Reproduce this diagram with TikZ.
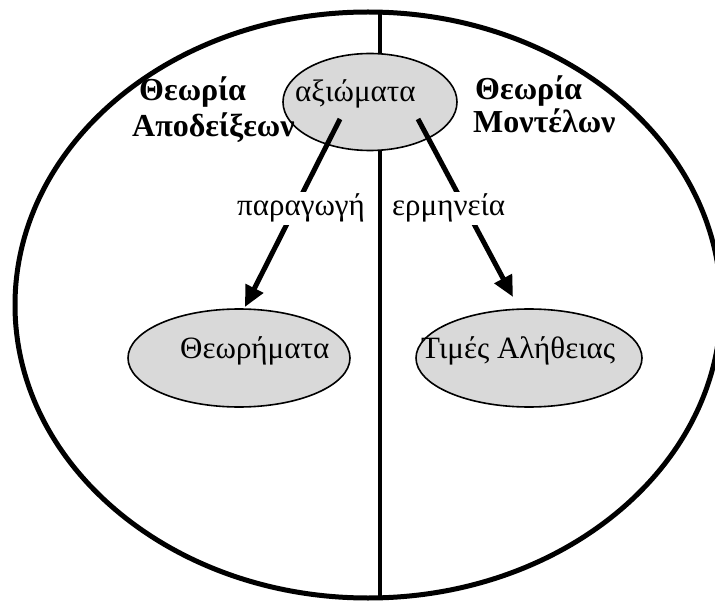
\documentclass[tikz,border=0pt]{standalone}
\usepackage{fontspec}
\setmainfont{Liberation Serif}
\usetikzlibrary{shapes.geometric,arrows.meta}
\definecolor{bubble}{RGB}{217,217,217}
\tikzset{
  bubblenode/.style={ellipse, draw=black, line width=1.6pt, fill=bubble,
    inner sep=0pt, minimum width=#1},
  word/.style={inner sep=0pt, anchor=base west, font=\fontsize{31}{36}\selectfont},
  heading/.style={inner sep=0pt, anchor=base west, font=\fontsize{32}{37}\selectfont\bfseries},
  tag/.style={fill=white, inner sep=2pt, anchor=base west, font=\fontsize{31}{36}\selectfont},
  flow/.style={line width=5pt, -{Triangle[length=21pt 0, width=19pt 0]}},
}
\begin{document}
\begin{tikzpicture}[x=1pt, y=-1pt]
\useasboundingbox (0,0) rectangle (715,604);
\clip (0,0) rectangle (715,604);

% outer frame and the dividing line
\draw[line width=5pt] (368,305) ellipse [x radius=353, y radius=293];
\coordinate (divtop) at (380,12);
\coordinate (divbot) at (380,598);
\draw[line width=4.5pt] (divtop) -- (divbot);

% the three bubbles
\node[bubblenode=174pt, minimum height=97pt] (ax) at (370,102) {};
\node[bubblenode=222pt, minimum height=98pt] (thm) at (239,358) {};
\node[bubblenode=226pt, minimum height=98pt] (tv) at (529,358) {};

\node[word] (axt) at (295,102) {αξιώματα};
\node[word] (thmt) at (180,358) {Θεωρήματα};
\node[word] (tvt) at (421,358) {Τιμές Αλήθειας};

% side headings
\node[heading] (lh1) at (139,101) {Θεωρία};
\node[heading] (lh2) at (132,137) {Αποδείξεων};
\node[heading] (rh1) at (475,100) {Θεωρία};
\node[heading] (rh2) at (473,133) {Μοντέλων};

% arrows from the axioms
\coordinate (lstart) at (340,119);
\coordinate (lend) at (245,307);
\coordinate (rstart) at (418,119);
\coordinate (rend) at (513,297);
\draw[flow] (lstart) -- (lend);
\draw[flow] (rstart) -- (rend);

\node[tag] (lt) at (235,216) {παραγωγή};
\node[tag] (rt) at (390,216) {ερμηνεία};
\end{tikzpicture}
\end{document}
